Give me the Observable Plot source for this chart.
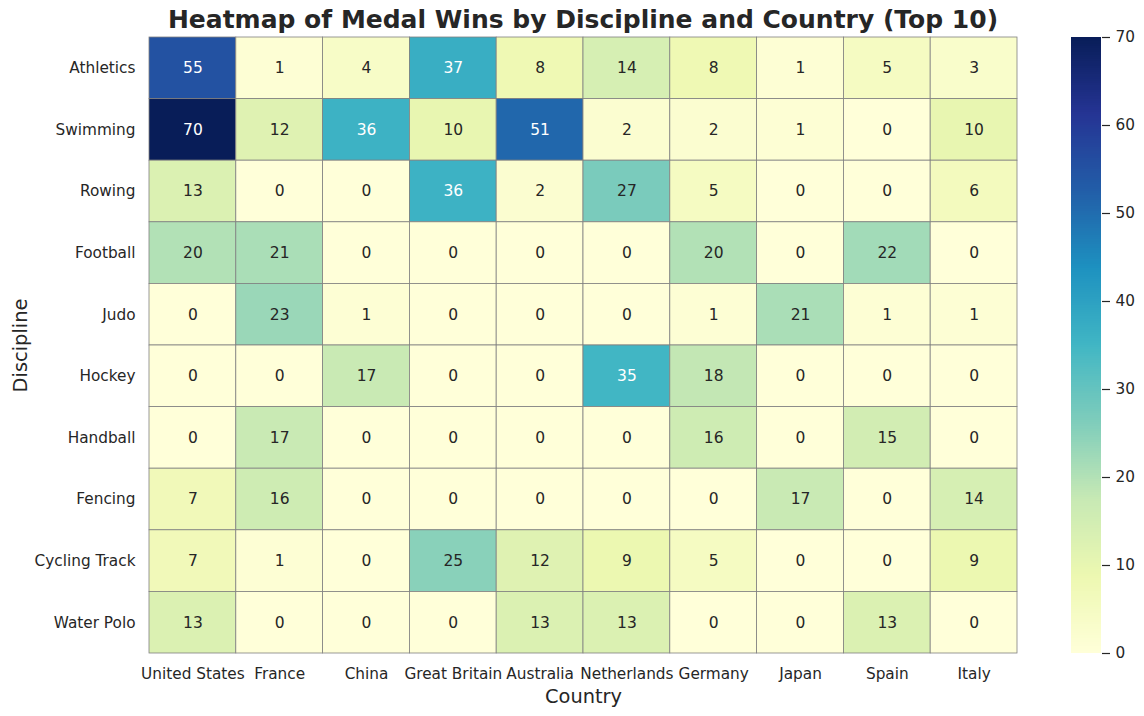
<!DOCTYPE html>
<html>
<head>
<meta charset="utf-8">
<script src="https://cdn.jsdelivr.net/npm/d3@7"></script>
<script src="https://cdn.jsdelivr.net/npm/@observablehq/plot@0.6"></script>
<style>
  html, body { margin: 0; padding: 0; background: #fff; overflow: hidden; font-family: "DejaVu Sans", sans-serif; }
  #wrap { position: relative; width: 1144px; height: 716px; overflow: hidden; }
  #title { position: absolute; left: 0; top: 5px; width: 1166px; height: 36px; line-height: 36px;
           text-align: center; font: bold 25px "DejaVu Sans", sans-serif; color: #262626; }
  #main { position: absolute; left: 0; top: 36px; width: 1144px; }
  #cbar { position: absolute; left: 1071px; top: 36px; width: 73px; }
  svg { max-width: none !important; }
</style>
</head>
<body>
<div id="wrap">
  <div id="title">Heatmap of Medal Wins by Discipline and Country (Top 10)</div>
  <div id="main"></div>
  <div id="cbar"></div>
</div>
<script>
const countries = ["United States", "France", "China", "Great Britain", "Australia", "Netherlands", "Germany", "Japan", "Spain", "Italy"];
const disciplines = ["Athletics", "Swimming", "Rowing", "Football", "Judo", "Hockey", "Handball", "Fencing", "Cycling Track", "Water Polo"];
const athletics    = [55, 1, 4, 37, 8, 14, 8, 1, 5, 3];
const swimming     = [70, 12, 36, 10, 51, 2, 2, 1, 0, 10];
const rowing       = [13, 0, 0, 36, 2, 27, 5, 0, 0, 6];
const football     = [20, 21, 0, 0, 0, 0, 20, 0, 22, 0];
const judo         = [0, 23, 1, 0, 0, 0, 1, 21, 1, 1];
const hockey       = [0, 0, 17, 0, 0, 35, 18, 0, 0, 0];
const handball     = [0, 17, 0, 0, 0, 0, 16, 0, 15, 0];
const fencing      = [7, 16, 0, 0, 0, 0, 0, 17, 0, 14];
const cyclingTrack = [7, 1, 0, 25, 12, 9, 5, 0, 0, 9];
const waterPolo    = [13, 0, 0, 0, 13, 13, 0, 0, 13, 0];
const colorbarTicks = [0, 10, 20, 30, 40, 50, 60, 70];

const rows = [athletics, swimming, rowing, football, judo, hockey, handball, fencing, cyclingTrack, waterPolo];
const data = [];
rows.forEach((vals, i) => vals.forEach((v, j) => data.push({discipline: disciplines[i], country: countries[j], value: v})));

const vmin = 0, vmax = 70;
const ylgnbu = ["#ffffd9","#edf8b1","#c7e9b4","#7fcdbb","#41b6c4","#1d91c0","#225ea8","#253494","#081d58"];
const interp = d3.piecewise(d3.interpolateRgb, ylgnbu);
const colorScale = {type: "linear", domain: [vmin, vmax], interpolate: interp};

function lum(c) {
  const {r, g, b} = d3.rgb(c);
  const f = v => { v /= 255; return v <= 0.03928 ? v / 12.92 : Math.pow((v + 0.055) / 1.055, 2.4); };
  return 0.2126 * f(r) + 0.7152 * f(g) + 0.0722 * f(b);
}
const isLight = d => lum(interp((d.value - vmin) / (vmax - vmin))) > 0.408;

const main = Plot.plot({
  width: 1144,
  height: 680,
  marginTop: 1,
  marginBottom: 63,
  marginLeft: 149,
  marginRight: 127,
  style: {fontFamily: "DejaVu Sans, sans-serif", color: "#262626", background: "transparent"},
  x: {domain: countries, padding: 0, round: false},
  y: {domain: disciplines, padding: 0, round: false},
  color: colorScale,
  marks: [
    Plot.cell(data, {x: "country", y: "discipline", fill: "value", stroke: "gray", strokeWidth: 0.8, inset: 0}),
    Plot.text(data.filter(isLight), {x: "country", y: "discipline", text: d => String(d.value), fill: "#262626", fontSize: 15.5}),
    Plot.text(data.filter(d => !isLight(d)), {x: "country", y: "discipline", text: d => String(d.value), fill: "white", fontSize: 15.5}),
    Plot.axisX({anchor: "bottom", tickSize: 0, tickPadding: 15, fontSize: 15.3, label: "Country", labelAnchor: "center", labelOffset: 49}),
    Plot.axisY({anchor: "left", tickSize: 0, tickPadding: 14, fontSize: 15.3, label: "Discipline", labelAnchor: "center", labelOffset: 136})
  ]
});
main.querySelectorAll("[aria-label='x-axis label'] text, [aria-label='y-axis label'] text").forEach(t => t.setAttribute("font-size", "19.4"));
document.getElementById("main").appendChild(main);

const step = 0.25;
const gradient = d3.range(vmin, vmax, step);
const cbar = Plot.plot({
  width: 73,
  height: 680,
  marginTop: 1,
  marginBottom: 63,
  marginLeft: 0,
  marginRight: 43,
  style: {fontFamily: "DejaVu Sans, sans-serif", color: "#262626", background: "transparent", overflow: "visible"},
  y: {domain: [vmin, vmax]},
  color: colorScale,
  marks: [
    Plot.rect(gradient, {y1: d => d, y2: d => d + step * 1.5 > vmax ? vmax : d + step * 1.5, fill: d => d + step / 2, shapeRendering: "crispEdges"}),
    Plot.axisY({anchor: "right", ticks: colorbarTicks, tickSize: 8, tickPadding: 6, fontSize: 15.3, label: null, strokeWidth: 1.2})
  ]
});
document.getElementById("cbar").appendChild(cbar);
</script>
</body>
</html>
